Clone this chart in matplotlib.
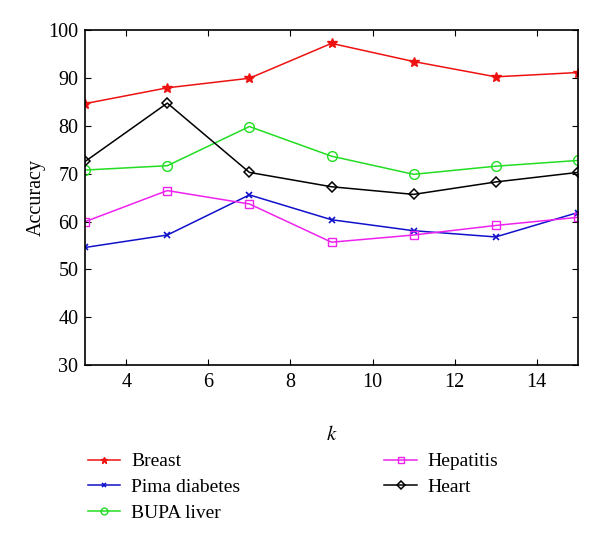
import matplotlib
matplotlib.use("Agg")
import matplotlib.pyplot as plt

k = [3, 5, 7, 9, 11, 13, 15]
breast = [84.7, 88.0, 90.0, 97.3, 93.5, 90.3, 91.2]
pima = [54.6, 57.2, 65.6, 60.4, 58.1, 56.8, 61.9]
bupa = [70.8, 71.7, 79.9, 73.7, 69.9, 71.6, 72.8]
hepatitis = [60.0, 66.5, 63.7, 55.7, 57.2, 59.2, 60.9]
heart = [72.6, 84.8, 70.3, 67.3, 65.7, 68.3, 70.3]

plt.rcParams['font.family'] = ['Liberation Serif', 'DejaVu Serif']
plt.rcParams['mathtext.fontset'] = 'stix'

fig = plt.figure(figsize=(6.0, 5.44), dpi=100)
ax = fig.add_axes([0.142, 0.329, 0.821, 0.615])

ax.plot(k, breast, color='#ee1111', marker='*', ms=7, lw=1.1, label='Breast')
ax.plot(k, pima, color='#1111cc', marker='x', ms=5, mew=1.2, lw=1.1, label='Pima diabetes')
ax.plot(k, bupa, color='#22dd22', marker='o', ms=7, mfc='none', lw=1.1, label='BUPA liver')
ax.plot(k, hepatitis, color='#ee22ee', marker='s', ms=6, mfc='none', lw=1.1, label='Hepatitis')
ax.plot(k, heart, color='black', marker='D', ms=5.5, mfc='none', mew=1.1, lw=1.1, label='Heart')

ax.set_xlim(3, 15)
ax.set_ylim(30, 100)
ax.set_xticks([4, 6, 8, 10, 12, 14])
ax.set_yticks([30, 40, 50, 60, 70, 80, 90, 100])
ax.tick_params(direction='in', top=True, right=True, labelsize=14.5, length=4)
ax.tick_params(axis='x', pad=6)
ax.tick_params(axis='y', pad=5)
for s in ax.spines.values():
    s.set_linewidth(1.2)
ax.set_xlabel('$k$', fontsize=15, labelpad=24)
ax.set_ylabel('Accuracy', fontsize=14.5, labelpad=2)

fig.legend(loc='upper left', bbox_to_anchor=(0.118, 0.2), ncol=2, frameon=False,
           fontsize=14, columnspacing=7.4, handlelength=1.65, labelspacing=0.42,
           handletextpad=0.57, markerscale=0.7)

fig.savefig('out.png', dpi=100)
